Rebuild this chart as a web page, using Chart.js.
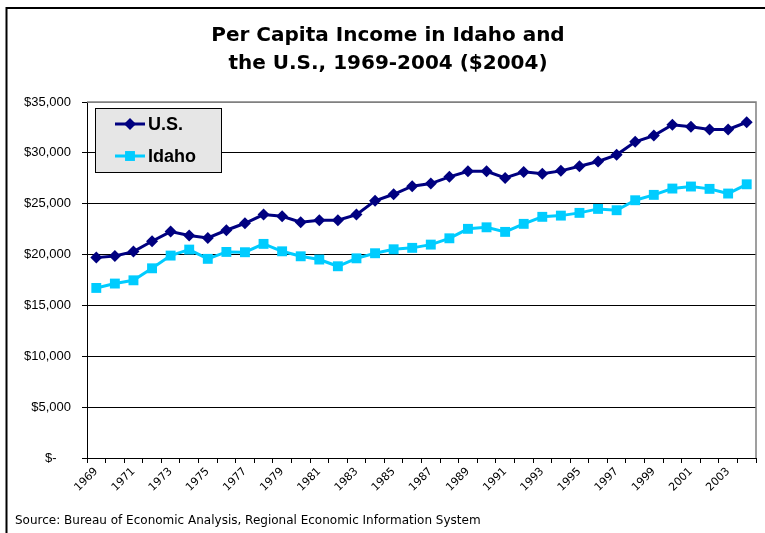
<!DOCTYPE html>
<html>
<head>
<meta charset="utf-8">
<script src="https://cdn.jsdelivr.net/npm/chart.js@4/dist/chart.umd.min.js"></script>
<style>
html,body{margin:0;padding:0;background:#fff;}
#wrap{position:relative;width:765px;height:533px;}
</style>
</head>
<body>
<div id="wrap"><canvas id="c" width="765" height="533"></canvas></div>
<script>
const years = ['1969','1970','1971','1972','1973','1974','1975','1976','1977','1978','1979','1980','1981','1982','1983','1984','1985','1986','1987','1988','1989','1990','1991','1992','1993','1994','1995','1996','1997','1998','1999','2000','2001','2002','2003','2004'];
const usIncome = [19700,19870,20290,21310,22260,21870,21640,22390,23080,23930,23770,23180,23370,23370,23930,25280,25930,26720,26980,27640,28190,28190,27540,28130,27940,28230,28680,29150,29810,31090,31700,32760,32560,32300,32300,33010];
const idahoIncome = [16720,17150,17470,18650,19900,20490,19580,20260,20230,21050,20320,19830,19510,18850,19630,20130,20520,20660,20980,21600,22530,22680,22230,23020,23710,23830,24100,24490,24360,25340,25870,26490,26690,26460,26000,26910];
const yTicks = [0,5000,10000,15000,20000,25000,30000,35000];
const titleLines = ['Per Capita Income in Idaho and','the U.S., 1969-2004 ($2004)'];
const seriesNames = ['U.S.','Idaho'];
const sourceText = 'Source: Bureau of Economic Analysis, Regional Economic Information System';

const US_COLOR = '#000080';
const ID_COLOR = '#00CCFF';

function drawMarker(ctx, style, x, y, r, color){
  ctx.save();
  ctx.fillStyle = color;
  ctx.beginPath();
  if (style === 'rectRot') {
    ctx.moveTo(x, y - r); ctx.lineTo(x + r, y); ctx.lineTo(x, y + r); ctx.lineTo(x - r, y); ctx.closePath();
  } else {
    const s = Math.SQRT1_2 * r;
    ctx.rect(x - s, y - s, 2 * s, 2 * s);
  }
  ctx.fill();
  ctx.restore();
}

const decor = {
  id: 'decor',
  afterDraw(chart) {
    const ctx = chart.ctx;
    const a = chart.chartArea;
    ctx.save();
    // outer frame (left & top)
    ctx.strokeStyle = '#000';
    ctx.lineWidth = 2;
    ctx.beginPath();
    ctx.moveTo(6.5, 533); ctx.lineTo(6.5, 8); ctx.lineTo(765, 8);
    ctx.stroke();
    // plot area border top/right in gray
    ctx.strokeStyle = '#808080';
    ctx.lineWidth = 1.5;
    ctx.beginPath();
    ctx.moveTo(a.left, a.top); ctx.lineTo(a.right, a.top); ctx.lineTo(a.right, a.bottom);
    ctx.stroke();
    // legend box
    const lx = a.left + 8, ly = a.top + 6, lw = 126, lh = 64;
    ctx.fillStyle = '#e6e6e6';
    ctx.fillRect(lx, ly, lw, lh);
    ctx.strokeStyle = '#000';
    ctx.lineWidth = 1;
    ctx.strokeRect(lx + 0.5, ly + 0.5, lw, lh);
    const ds = chart.data.datasets;
    const rows = [ly + 16, ly + 48];
    ds.forEach((d, i) => {
      const y = rows[i];
      ctx.strokeStyle = d.borderColor;
      ctx.lineWidth = 3;
      ctx.beginPath();
      ctx.moveTo(lx + 20, y); ctx.lineTo(lx + 50, y);
      ctx.stroke();
      drawMarker(ctx, d.pointStyle, lx + 35, y, d.pointRadius, d.borderColor);
      ctx.fillStyle = '#000';
      ctx.font = 'bold 18px "Liberation Sans", Arial, sans-serif';
      ctx.textBaseline = 'middle';
      ctx.textAlign = 'left';
      ctx.fillText(d.label, lx + 53, y + 1);
    });
    // source text
    ctx.fillStyle = '#000';
    ctx.font = '12px "DejaVu Sans", Tahoma, sans-serif';
    ctx.textBaseline = 'middle';
    ctx.textAlign = 'left';
    ctx.fillText(sourceText, 15, 521);
    ctx.restore();
  }
};

new Chart(document.getElementById('c'), {
  type: 'line',
  data: {
    labels: years,
    datasets: [
      {label: seriesNames[0], data: usIncome, borderColor: US_COLOR, backgroundColor: US_COLOR, borderWidth: 3, pointStyle: 'rectRot', pointRadius: 6, pointHoverRadius: 6, pointBorderWidth: 0, tension: 0},
      {label: seriesNames[1], data: idahoIncome, borderColor: ID_COLOR, backgroundColor: ID_COLOR, borderWidth: 3, pointStyle: 'rect', pointRadius: 7, pointHoverRadius: 7, pointBorderWidth: 0, tension: 0}
    ]
  },
  options: {
    responsive: false,
    animation: false,
    events: [],
    layout: {padding: {left: 20, right: 9, top: 0, bottom: 0}},
    plugins: {
      legend: {display: false},
      tooltip: {enabled: false},
      title: {
        display: true,
        text: titleLines,
        color: '#000',
        font: {family: '"DejaVu Sans", Tahoma, sans-serif', size: 20, weight: 'bold', lineHeight: 1.4},
        padding: {top: 22, bottom: 24}
      }
    },
    scales: {
      x: {
        type: 'category',
        offset: true,
        grid: {display: true, offset: true, drawOnChartArea: false, drawTicks: true, tickLength: 5, tickColor: '#000', color: '#000'},
        border: {display: true, color: '#000', width: 1},
        ticks: {
          autoSkip: false, maxRotation: 45, minRotation: 45, padding: 2,
          color: '#000',
          font: {family: '"DejaVu Sans", Tahoma, sans-serif', size: 11},
          callback: function(v, i){ return i % 2 === 0 ? this.getLabelForValue(v) : ''; }
        },
        afterFit(s){ s.height = 75; }
      },
      y: {
        min: 0, max: 35000,
        afterBuildTicks(s){ s.ticks = yTicks.map(v => ({value: v})); },
        grid: {color: ctx => ctx.tick && ctx.tick.value === 35000 ? '#808080' : '#000', lineWidth: 1, tickLength: 5, tickColor: '#000'},
        border: {display: true, color: '#000', width: 1},
        ticks: {
          padding: 11, color: '#000',
          font: {family: '"Liberation Sans", Arial, sans-serif', size: 13},
          callback: v => v === 0 ? '$-    ' : '$' + v.toLocaleString('en-US')
        },
        afterFit(s){ s.width = 67; }
      }
    }
  },
  plugins: [decor]
});
</script>
</body>
</html>
